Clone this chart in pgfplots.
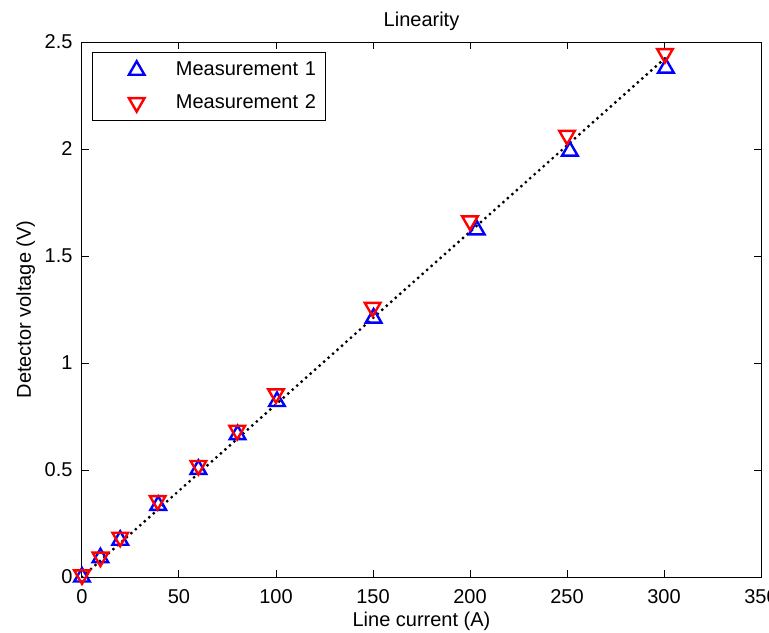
\documentclass[border=0pt]{standalone}
\usepackage{fontspec}
\setmainfont{Liberation Sans}
\usepackage{pgfplots}
\pgfplotsset{compat=1.18}
\pgfplotsset{mylegend/.style={legend image code/.code={\path (0pt,-6pt) (37.5pt,6pt);
        \draw[mark repeat=2,mark phase=2,##1] plot coordinates {(0pt,0pt) (21.5pt,0pt) (37.5pt,0pt)};}}}

\pgfplotstableread{
x y
0 0
9.5 0.090
19.7 0.172
39.3 0.335
60 0.503
80.2 0.665
100.5 0.820
150.3 1.210
203.5 1.622
251.5 1.990
301 2.378
}\measA

\pgfplotstableread{
x y
0 0.010
9.5 0.093
19.7 0.186
39 0.357
60 0.521
80 0.685
100 0.856
149.8 1.260
200 1.664
250 2.064
300.5 2.446
}\measB

\begin{document}
\begin{tikzpicture}
\begin{axis}[
    at={(0,0)}, anchor=south west,
    scale only axis,
    width=339.5pt, height=267.5pt,
    xmin=0, xmax=350, ymin=0, ymax=2.5,
    xtick={0,50,...,350},
    ytick={0,0.5,...,2.5},
    tick align=inside,
    major tick length=3.5pt,
    axis line style={line width=0.5pt},
    tick style={black, line width=0.5pt},
    /pgf/number format/assume math mode=true,
    xticklabel style={yshift=-2.5pt},
    yticklabel style={xshift=-1.2pt},
    title={Linearity},
    every axis title shift=0pt,
    title style={at={(axis description cs:0.5,1.0299)}, anchor=base, inner sep=0pt},
    xlabel={Line current (A)},
    xlabel style={at={(axis description cs:0.5,-0.0916)}, anchor=base, inner sep=0pt},
    ylabel={Detector voltage (V)},
    ylabel style={at={(axis description cs:-0.0752,0.5)}, anchor=base, inner sep=0pt},
    legend style={at={(axis description cs:0.0147,0.981)}, anchor=north west,
        draw=black, line width=0.5pt, fill=white,
        inner xsep=0pt, inner ysep=2.2pt, row sep=3pt, column sep=3pt,
        nodes={inner sep=0pt, text width=75pt, align=left}},
    legend cell align=left,
]
\addplot[black, line width=1.6pt, dash pattern=on 0pt off 3pt, line cap=round]
    coordinates {(0,0) (300.5,2.424)};
\addplot[only marks, mark=triangle, mark size=4.5pt, blue, line width=1.2pt, mylegend]
    table[x=x,y=y] {\measA};
\addplot[only marks, mark=triangle, mark size=4.5pt, red, line width=1.2pt,
    mark options={rotate=180}, mylegend]
    table[x=x,y=y] {\measB};
\legend{,Measurement 1,Measurement 2}
\end{axis}
\pgfresetboundingbox
\useasboundingbox (-41pt,-27.5pt) rectangle (343.5pt,288.5pt);
\end{tikzpicture}
\end{document}
